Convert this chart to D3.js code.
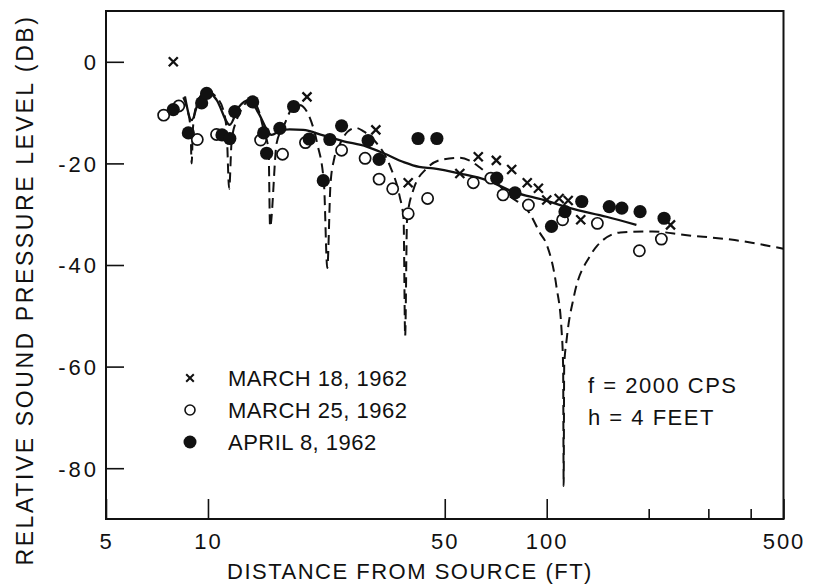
<!DOCTYPE html>
<html>
<head>
<meta charset="utf-8">
<script src="https://cdn.jsdelivr.net/npm/d3@7"></script>
<style>
  body { margin: 0; background: #fff; }
  text { font-family: "Liberation Sans", Arial, sans-serif; fill: #111; }
</style>
</head>
<body>
<svg id="chart" width="813" height="586"></svg>
<script>
// tick values
const xLabelTicks = [5, 10, 50, 100, 500];
const xMinorTicks = [200, 300, 400];
const yTicks = [0, -20, -40, -60, -80];

// measured points [distance ft, dB]
const march18 = [[7.9, 0], [19.6, -6.9], [31.3, -13.4], [39.0, -23.8], [55.4, -22.0], [62.8, -18.7],
  [71.0, -19.4], [78.8, -21.2], [87.6, -23.8], [94.5, -24.9], [100, -27.2], [108.8, -26.9],
  [115.7, -27.3], [126, -31.1], [232, -32.1]];
const march25 = [[7.4, -10.5], [8.2, -8.7], [9.3, -15.3], [10.6, -14.3], [14.3, -15.4], [16.6, -18.2],
  [19.4, -15.9], [24.8, -17.4], [29.1, -19.0], [32.0, -23.1], [35.1, -25.0], [39.0, -29.9],
  [44.5, -26.9], [60.7, -23.8], [68.4, -22.9], [74.3, -26.2], [88.3, -28.2], [111.4, -31.1],
  [141.1, -31.8], [187.7, -37.2], [218, -34.9]];
const april8 = [[7.9, -9.4], [8.75, -14.0], [9.58, -8.1], [9.91, -6.2], [11.0, -14.4], [11.6, -15.1],
  [12.0, -9.8], [13.55, -7.9], [14.6, -14.0], [14.9, -18.0], [16.3, -13.1], [17.9, -8.8],
  [19.9, -15.2], [21.9, -23.4], [22.9, -15.3], [24.8, -12.6], [29.7, -15.5], [32.0, -19.2],
  [41.7, -15.1], [47.4, -15.1], [71.2, -22.9], [80.6, -25.8], [103.3, -32.4], [113.2, -29.5],
  [126.9, -27.5], [153, -28.5], [166.6, -28.8], [188.6, -29.5], [222, -30.8]];

// smoothed average of the measurements (solid)
const fitCurve = [[8.55, -6.8], [8.95, -11.5], [9.4, -7.5], [9.9, -5.6], [10.6, -7.5], [11.6, -12.4],
  [12.3, -9.0], [13.3, -7.5], [14.1, -10.1], [15.4, -14.4], [16.3, -13.6], [17.4, -13.3],
  [19.1, -13.4], [21.9, -14.5], [25, -15.6], [29.4, -16.7], [33, -18], [38, -19.8], [42, -20.7],
  [46.3, -21], [55.4, -22], [66.5, -23.3], [79.7, -25.6], [97.8, -27.2], [117.3, -28.8],
  [150, -30.5], [184, -32.1]];

// theoretical curve (dashed)
const theoryCurve = [[8.45, -7.0], [8.7, -9.5], [8.88, -13], [8.95, -20], [9.03, -13], [9.3, -8],
  [9.9, -5.8], [10.6, -7.0], [11.1, -9.5], [11.35, -13.4], [11.55, -25], [11.75, -15.4],
  [12.15, -11.5], [12.7, -8.8], [13.4, -7.4], [14.1, -9.5], [14.6, -13.4], [15.1, -17.4],
  [15.25, -32.5], [15.95, -16], [16.7, -12.8], [17.9, -8.8], [18.6, -8.5], [20.0, -11.1],
  [21.0, -16], [22.0, -24], [22.5, -40.6], [23.0, -24], [23.6, -19], [24.4, -16.5],
  [25.8, -13.8], [27.3, -13.0], [28.8, -13.7], [30.9, -15.4], [34.5, -20.6], [36.8, -26.5],
  [37.8, -31], [38.2, -54], [38.7, -31], [40.4, -25.2], [44.2, -21], [49.5, -19.2], [55, -18.9],
  [59, -19.4], [64, -21], [70, -23.2], [76, -25.9], [89, -29.8], [95.5, -33.7], [100, -36],
  [106.8, -44.2], [110.6, -52.8], [111.8, -60], [112.2, -83.5], [112.6, -60], [114.5, -54.7],
  [120.3, -46.2], [134, -38.3], [141, -36.2], [165, -33.6], [205, -33.4], [256, -34.1],
  [359, -35.1], [500, -36.8]];

const legendItems = ["MARCH 18, 1962", "MARCH 25, 1962", "APRIL 8, 1962"];
const noteLines = ["f = 2000 CPS", "h = 4 FEET"];

const svg = d3.select("#chart");
const plot = { left: 106, right: 783.5, top: 11, bottom: 519 };

const x = d3.scaleLog().domain([5, 500]).range([plot.left, plot.right]);
const y = d3.scaleLinear().domain([-90, 10]).range([plot.bottom, plot.top]);

// axes, ticks pointing into the plot
svg.append("g").attr("transform", `translate(0,${plot.bottom})`)
  .call(d3.axisBottom(x).tickValues(xLabelTicks).tickSizeInner(-20).tickSizeOuter(0)
    .tickPadding(14).tickFormat(d3.format("d")));
svg.append("g").attr("transform", `translate(0,${plot.bottom})`)
  .call(d3.axisBottom(x).tickValues(xMinorTicks).tickSizeInner(-10).tickSizeOuter(0).tickFormat(""));
const yAxis = svg.append("g").attr("transform", `translate(${plot.left},0)`)
  .call(d3.axisLeft(y).tickValues(yTicks).tickSizeInner(-18).tickSizeOuter(0)
    .tickPadding(7).tickFormat(d => String(d)));

svg.selectAll(".domain").remove();
svg.selectAll(".tick line").attr("stroke", "#111").attr("stroke-width", 1.6);
svg.selectAll(".tick text").attr("font-size", 22).attr("font-family", null).attr("fill", "#111")
  .attr("letter-spacing", 2);
yAxis.selectAll(".tick text").attr("dy", "0.36em").attr("letter-spacing", 3);

// frame
svg.append("rect").attr("x", plot.left).attr("y", plot.top)
  .attr("width", plot.right - plot.left).attr("height", plot.bottom - plot.top)
  .attr("fill", "none").attr("stroke", "#111").attr("stroke-width", 2);

// axis titles
svg.append("text").attr("x", 410).attr("y", 579).attr("text-anchor", "middle")
  .attr("font-size", 22).attr("letter-spacing", 1.5).text("DISTANCE FROM SOURCE (FT)");
svg.append("text").attr("transform", "translate(33,290) rotate(-90)").attr("text-anchor", "middle")
  .attr("font-size", 23).attr("letter-spacing", 2.6).text("RELATIVE SOUND PRESSURE LEVEL (DB)");

// curves
const line = d3.line().x(d => x(d[0])).y(d => y(d[1])).curve(d3.curveMonotoneX);
svg.append("path").datum(theoryCurve).attr("d", line).attr("fill", "none")
  .attr("stroke", "#111").attr("stroke-width", 2).attr("stroke-dasharray", "10,6");
svg.append("path").datum(fitCurve).attr("d", line).attr("fill", "none")
  .attr("stroke", "#111").attr("stroke-width", 2.3);

// markers
function cross(g, cx, cy, s, w) {
  g.append("path").attr("d", `M${cx - s},${cy - s}L${cx + s},${cy + s}M${cx + s},${cy - s}L${cx - s},${cy + s}`)
    .attr("stroke", "#111").attr("stroke-width", w).attr("fill", "none");
}
const marks = svg.append("g");
march25.forEach(d => marks.append("circle").attr("cx", x(d[0])).attr("cy", y(d[1])).attr("r", 5.6)
  .attr("fill", "#fff").attr("stroke", "#111").attr("stroke-width", 1.7));
april8.forEach(d => marks.append("circle").attr("cx", x(d[0])).attr("cy", y(d[1])).attr("r", 6.6)
  .attr("fill", "#111"));
march18.forEach(d => cross(marks, x(d[0]), y(d[1]), 4.5, 2.3));

// legend
const leg = svg.append("g");
legendItems.forEach((t, i) => {
  const cy = 378 + i * 32;
  if (i === 0) cross(leg, 190, cy, 3.8, 2);
  if (i === 1) leg.append("circle").attr("cx", 190).attr("cy", cy).attr("r", 5)
    .attr("fill", "#fff").attr("stroke", "#111").attr("stroke-width", 1.6);
  if (i === 2) leg.append("circle").attr("cx", 190).attr("cy", cy).attr("r", 6.5).attr("fill", "#111");
  leg.append("text").attr("x", 228).attr("y", cy + 8).attr("font-size", 22).attr("letter-spacing", 0.5).text(t);
});
noteLines.forEach((t, i) => {
  svg.append("text").attr("x", 588).attr("y", 393 + i * 32).attr("font-size", 22)
    .attr("letter-spacing", 1.5).text(t);
});
</script>
</body>
</html>
